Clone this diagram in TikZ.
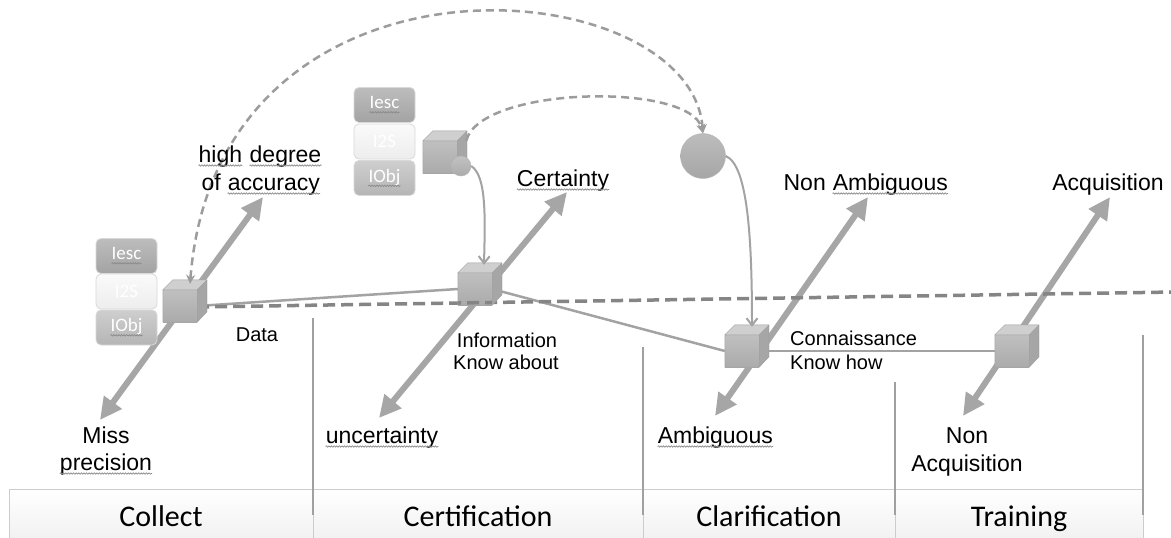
\documentclass[tikz,border=0pt]{standalone}
\usepackage{fontspec}
\setmainfont{Liberation Sans}
\newfontfamily\calfont{Carlito}
\usetikzlibrary{arrows.meta,decorations.pathmorphing}
\definecolor{arrowgray}{HTML}{A6A6A6}
\definecolor{linegray}{HTML}{A3A3A3}
\definecolor{dashgray}{HTML}{858585}
\definecolor{arcgray}{HTML}{9C9C9C}
\definecolor{sqgray}{HTML}{8A8A8A}
\definecolor{vgray}{HTML}{A0A0A0}
\newcommand\sq[2][black]{\tikz[baseline=(sqw.base)]{\node[inner sep=0pt,text=#1] (sqw) {#2};
  \draw[sqgray, line width=0.7pt, decorate, decoration={snake, amplitude=0.7pt, segment length=2.6pt}]
    ([yshift=-3.5pt]sqw.base west) -- ([yshift=-3.5pt]sqw.base east);}}
\newcommand\cubefaces[1]{%
  \fill[cubetop] (#1.north west) -- ++(10,-10) -- ++(34,0) -- (#1.north east) -- cycle;
  \fill[cubeside] (#1.north east) -- ++(10,-10) -- ++(0,32) -- (#1.south east) -- cycle;
  \draw[cubeedge] (#1.north west) -- ++(10,-10) -- ++(34,0) -- ++(0,32) -- (#1.south east) -- (#1.south west) -- (#1.north west) -- (#1.north east) -- ++(10,-10) (#1.north east) -- (#1.south east);
}
\tikzset{
  cubefront/.style={rectangle, minimum width=34pt, minimum height=32pt, inner sep=0pt,
    top color=gray!50, bottom color=gray!66},
  cubetop/.style={fill=gray!38},
  cubeside/.style={fill=gray!70},
  cubeedge/.style={draw=gray!75, line width=0.4pt, line join=round},
  bigarrow/.style={draw=arrowgray, line width=6pt,
    {Triangle[length=22pt,width=21pt]}-{Triangle[length=22pt,width=21pt]}},
  thinline/.style={draw=linegray, line width=2.5pt},
  dashline/.style={draw=dashgray, line width=3.5pt, dash pattern=on 12pt off 6pt},
  arcline/.style={draw=arcgray, line width=2.5pt, dash pattern=on 8pt off 5pt},
  curvearrow/.style={draw=linegray, line width=2pt, -{Straight Barb[length=7pt,width=11pt,line width=2pt]}},
  vline/.style={draw=vgray, line width=2pt},
  stackbox/.style={rectangle, rounded corners=5pt, minimum width=61pt, minimum height=35pt,
    inner sep=0pt, draw=gray!30, line width=0.8pt},
  boxtxt/.style={inner sep=0pt, font=\calfont\fontsize{19}{21}\selectfont},
  iesc/.style={stackbox, top color=gray!52, bottom color=gray!72},
  itwos/.style={stackbox, top color=gray!4, bottom color=gray!14},
  iobj/.style={stackbox, top color=gray!38, bottom color=gray!58},
  lbl/.style={font=\fontsize{23}{26}\selectfont, inner sep=0pt, anchor=base},
  sublbl/.style={font=\fontsize{20}{23}\selectfont, inner sep=0pt, anchor=base},
  barcell/.style={draw=gray!40, line width=1pt, top color=white, bottom color=gray!12},
  barlbl/.style={font=\calfont\fontsize{30}{32}\selectfont, inner sep=0pt, anchor=base},
}
\begin{document}
\begin{tikzpicture}[x=1pt,y=-1pt]
\useasboundingbox[fill=white] (0,0) rectangle (1171,538);

% bottom bar
\fill[barcell] (9,489) rectangle (313,545);
\fill[barcell] (313,489) rectangle (643,545);
\fill[barcell] (643,489) rectangle (895,545);
\fill[barcell] (895,489) rectangle (1143,545);
\draw[draw=gray!40, line width=1pt] (9,545) -- (9,489) -- (1143,489) -- (1143,545);
\node[barlbl] (b-collect) at (161,526) {Collect};
\node[barlbl] (b-cert) at (478,526) {Certification};
\node[barlbl] (b-clar) at (769,526) {Clarification};
\node[barlbl] (b-train) at (1019,526) {Training};

% vertical separators
\coordinate (v1t) at (313,318); \coordinate (v1b) at (313,515);
\coordinate (v2t) at (643,347); \coordinate (v2b) at (643,515);
\coordinate (v3t) at (895,382); \coordinate (v3b) at (895,515);
\coordinate (v4t) at (1143,335); \coordinate (v4b) at (1143,515);
\draw[vline] (v1t) -- (v1b);
\draw[vline] (v2t) -- (v2b);
\draw[vline] (v3t) -- (v3b);
\draw[vline] (v4t) -- (v4b);

% cube positions
\coordinate (p1) at (180,306);
\coordinate (p2) at (475,289);
\coordinate (p3) at (742,351);
\coordinate (p4) at (1012,351);
\coordinate (p5) at (440,157);

% big double arrows
\coordinate (a1lo) at (100,420); \coordinate (a1hi) at (263,197);
\coordinate (a2lo) at (379,418); \coordinate (a2hi) at (567,192);
\coordinate (a3lo) at (715,416); \coordinate (a3hi) at (868,197);
\coordinate (a4lo) at (963,416); \coordinate (a4hi) at (1110,197);
\draw[bigarrow] (a1lo) -- (a1hi);
\draw[bigarrow] (a2lo) -- (a2hi);
\draw[bigarrow] (a3lo) -- (a3hi);
\draw[bigarrow] (a4lo) -- (a4hi);

% cubes (front faces as nodes)
\node[cubefront] (c1) at (p1) {};
\node[cubefront] (c2) at (p2) {};
\node[cubefront] (c3) at (p3) {};
\node[cubefront] (c4) at (p4) {};
\node[cubefront] (c5) at (p5) {};

% thin connectors
\draw[thinline] (c1.east) -- (c2.west);
\draw[thinline] (c2.east) -- (c3.west);
\draw[thinline] (c3.east) -- (c4.west);

% dashed horizon
\coordinate (dashend) at (1175,292);
\draw[dashline] ([yshift=-1pt]c1.east) -- (dashend);

\cubefaces{c1}
\cubefaces{c2}
\cubefaces{c3}
\cubefaces{c4}
\cubefaces{c5}

% circles
\node[circle, minimum size=20pt, inner sep=0pt, top color=gray!48, bottom color=gray!66, draw=gray!60] (s1) at (461,166) {};
\node[circle, minimum size=45pt, inner sep=0pt, top color=gray!52, bottom color=gray!70, draw=gray!60] (b1) at (703,156) {};

% curved arrows
\draw[curvearrow] (s1.east) .. controls (487,176) and (485,220) .. ([xshift=9pt,yshift=8pt]c2.north);
\draw[curvearrow] (b1.east) .. controls (748,165) and (752,240) .. ([xshift=10pt,yshift=8pt]c3.north);

% dashed arcs
\draw[arcline, {Stealth[length=9pt,width=9pt]}-{Stealth[length=9pt,width=9pt]}]
  ([xshift=10pt,yshift=6pt]c1.north) .. controls (218,-72) and (691,-30) .. (b1.north);
\draw[arcline, -{Stealth[length=9pt,width=9pt]}]
  ([xshift=9pt]c5.north east) .. controls (480,86) and (690,82) .. (b1.north);

% stacks
\node[iesc] (k1a) at (126.5,256) {};
\node[itwos] (k1b) at (126.5,291.5) {};
\node[iobj] (k1c) at (126.5,327.5) {};
\node[iesc] (k2a) at (384.5,105) {};
\node[itwos] (k2b) at (384.5,141.5) {};
\node[iobj] (k2c) at (384.5,178) {};
\node[boxtxt] (k1a-t) at (k1a) {\sq[white]{Iesc}};
\node[boxtxt] (k1b-t) at (k1b) {\textcolor{white}{I2S}};
\node[boxtxt] (k1c-t) at (k1c) {\sq[white]{IObj}};
\node[boxtxt] (k2a-t) at (k2a) {\sq[white]{Iesc}};
\node[boxtxt] (k2b-t) at (k2b) {\textcolor{white}{I2S}};
\node[boxtxt] (k2c-t) at (k2c) {\sq[white]{IObj}};

% labels
\node[lbl] (t-high) at (260,162) {\sq{high} \sq{degree}};
\node[lbl] (t-acc) at (261,190) {of \sq{accuracy}};
\node[sublbl] (t-data) at (257,341) {Data};
\node[lbl] (t-cert) at (563,186) {\sq{Certainty}};
\node[sublbl] (t-info) at (507,347) {Information};
\node[sublbl] (t-kab) at (506,369) {Know about};
\node[lbl] (t-nam) at (866,190) {Non \sq{Ambiguous}};
\node[lbl] (t-acq) at (1108,190) {Acquisition};
\node[sublbl, anchor=base west] (t-con) at (790,345) {Connaissance};
\node[sublbl, anchor=base west] (t-kh) at (790,369) {Know how};
\node[lbl] (t-miss) at (106,443) {Miss};
\node[lbl] (t-prec) at (106,470) {\sq{precision}};
\node[lbl, anchor=base west] (t-unc) at (325,443) {\sq{uncertainty}};
\node[lbl, anchor=base west] (t-amb) at (657,443) {\sq{Ambiguous}};
\node[lbl] (t-non) at (967,443) {Non};
\node[lbl] (t-nacq) at (967,471) {Acquisition};
\end{tikzpicture}
\end{document}
